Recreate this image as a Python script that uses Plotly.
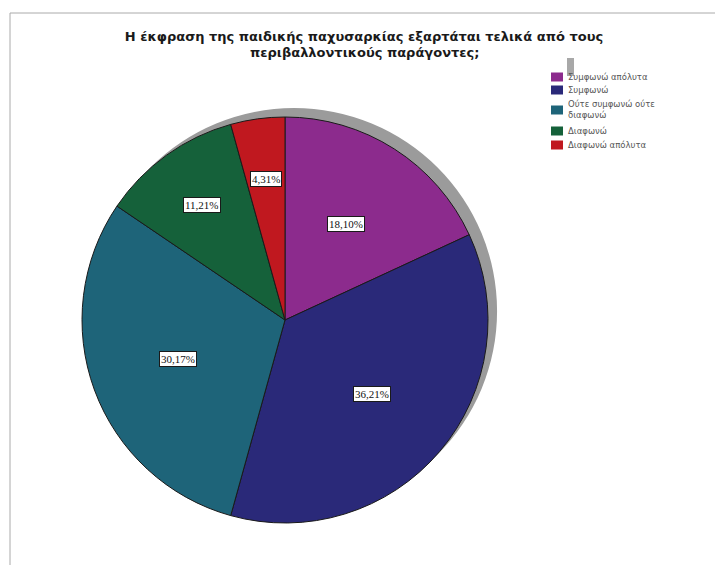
import math
import plotly.graph_objects as go

categories = ["Συμφωνώ απόλυτα", "Συμφωνώ", "Ούτε συμφωνώ ούτε διαφωνώ", "Διαφωνώ", "Διαφωνώ απόλυτα"]
legend_text = ["Συμφωνώ απόλυτα", "Συμφωνώ", "Ούτε συμφωνώ ούτε<br>διαφωνώ", "Διαφωνώ", "Διαφωνώ απόλυτα"]
values = [18.10, 36.21, 30.17, 11.21, 4.31]
value_labels = ["18,10%", "36,21%", "30,17%", "11,21%", "4,31%"]
colors = ["#8C2B8D", "#2A2979", "#1E6479", "#15613A", "#C0181F"]
title_lines = ["Η έκφραση της παιδικής παχυσαρκίας εξαρτάται τελικά από τους",
               "περιβαλλοντικούς παράγοντες;"]

# page body has an 8px margin: figure pixel coords = reference coords - 8
OFF = 8
W, H = 723 - OFF, 565 - OFF
cx, cy, R = 285 - OFF, 320 - OFF, 203


def px(x):
    return x / W


def py(y):
    return 1 - y / H


dom_x = [px(cx - R), px(cx + R)]
dom_y = [py(cy + R), py(cy - R)]

fig = go.Figure()

# grey shadow behind the pie
sdx, sdy = 9, 9
fig.add_trace(go.Pie(
    values=[1], labels=["shadow"], marker=dict(colors=["#9b9b9b"]),
    domain=dict(x=[dom_x[0] + sdx / W, dom_x[1] + sdx / W], y=[dom_y[0] + sdy / H, dom_y[1] + sdy / H]),
    textinfo="none", showlegend=False, hoverinfo="skip", sort=False,
))

fig.add_trace(go.Pie(
    labels=categories, values=values, sort=False, direction="clockwise", rotation=0,
    marker=dict(colors=colors, line=dict(color="#1a1a1a", width=1)),
    textinfo="none", domain=dict(x=dom_x, y=dom_y), showlegend=False,
))

# value label boxes placed along each slice's mid-angle
total = sum(values)
cum = 0
for v, lab in zip(values, value_labels):
    mid = (cum + v / 2) / total * 2 * math.pi
    cum += v
    rf = 0.56 if v > 15 else 0.70
    x = cx + rf * R * math.sin(mid)
    y = cy - rf * R * math.cos(mid)
    fig.add_annotation(x=px(x), y=py(y), xref="paper", yref="paper", text=lab,
                       xanchor="center", yanchor="middle",
                       showarrow=False, bgcolor="white", bordercolor="#1a1a1a", borderwidth=1,
                       borderpad=1, font=dict(family="Liberation Serif", size=11, color="#111111"))

# legend drawn as swatches + text
shapes = [
    dict(type="line", xref="paper", yref="paper", x0=px(10 - OFF), x1=1, y0=py(13 - OFF), y1=py(13 - OFF),
         line=dict(color="#aaaaaa", width=1)),
    dict(type="line", xref="paper", yref="paper", x0=px(10 - OFF), x1=px(10 - OFF), y0=0, y1=py(13 - OFF),
         line=dict(color="#aaaaaa", width=1)),
    dict(type="rect", xref="paper", yref="paper", x0=px(567 - OFF), x1=px(574 - OFF),
         y0=py(76 - OFF), y1=py(58 - OFF), fillcolor="#a8a8a8", line=dict(width=0)),
]
leg_y = [77, 90, 110, 131, 145]
for name, col, yy in zip(legend_text, colors, leg_y):
    yy = yy - OFF
    shapes.append(dict(type="rect", xref="paper", yref="paper", x0=px(551 - OFF), x1=px(563 - OFF),
                       y0=py(yy + 4.5), y1=py(yy - 4.5), fillcolor=col, line=dict(width=0)))
    fig.add_annotation(x=px(566 - OFF), y=py(yy), xref="paper", yref="paper", text=name,
                       showarrow=False, xanchor="left", yanchor="middle", align="left",
                       font=dict(family="DejaVu Sans", size=8.5, color="#555555"))

title_font = dict(family="DejaVu Sans", size=13, color="#1a1a1a")
fig.add_annotation(x=px(364 - OFF), y=py(53 - OFF), xref="paper", yref="paper",
                   text="<b>" + title_lines[1] + "</b>", showarrow=False,
                   xanchor="center", yanchor="middle", font=title_font)

fig.update_layout(
    width=W, height=H, margin=dict(l=0, r=0, t=0, b=0),
    paper_bgcolor="white", plot_bgcolor="white", showlegend=False,
    title=dict(text="<b>" + title_lines[0] + "</b>",
               x=px(364 - OFF), xanchor="center", y=py(36 - OFF), yanchor="middle",
               font=title_font),
    shapes=shapes,
)

fig.write_html("out.html")
